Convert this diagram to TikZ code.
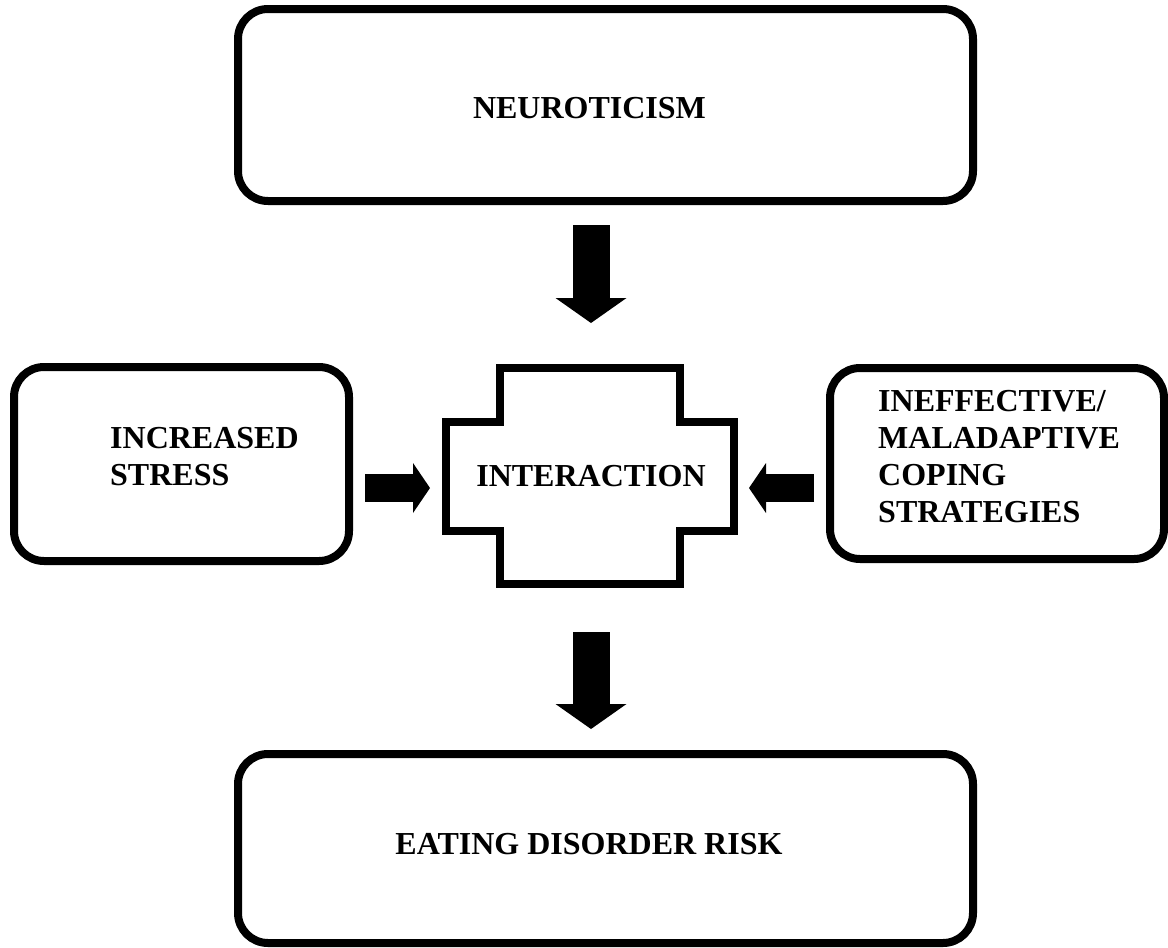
\documentclass[tikz,border=0pt]{standalone}
\usepackage{fontspec}
\setmainfont{Liberation Serif}
\usepackage{tikz}
\usetikzlibrary{arrows.meta}
\usetikzlibrary{positioning}
\tikzstyle{model_box}=[draw=black, line width=8pt, rounded corners=30pt]
\tikzstyle{box_text}=[align=left, inner sep=0pt]
\tikzstyle{block_down}=[line width=37pt, -{Triangle[width=71pt,length=25pt,line width=0pt]}]
\tikzstyle{block_side}=[line width=28pt, -{Triangle[width=50pt,length=17pt,line width=0pt]}]

\begin{document}
\begin{tikzpicture}[x=1pt, y=-1pt, every node/.style={font=\fontsize{32}{37}\selectfont\bfseries}]
\useasboundingbox (0,0) rectangle (1168,948);
% boxes
\node[model_box, minimum width=735pt, minimum height=192pt] (neuro) at (605.5,105){};
\node[model_box, minimum width=335pt, minimum height=194pt] (stress) at (181.5,464){};
\node[model_box, minimum width=334pt, minimum height=191pt] (coping) at (997,463.5){};
\node[model_box, minimum width=735pt, minimum height=189pt] (risk) at (605.5,848.5){};
\node[box_text] (neuro_txt) at (589.5,108){NEUROTICISM};
\node[box_text, anchor=west] (stress_txt) at (110,457){INCREASED\\STRESS};
\node[box_text, anchor=west] (coping_txt) at (878,457){INEFFECTIVE/\\MALADAPTIVE\\COPING\\STRATEGIES};
\node[box_text] (risk_txt) at (589,844){EATING DISORDER RISK};
% interaction cross
\draw[line width=8pt, miter limit=4] (500,368) -- (680,368) -- (680,422) -- (734,422) -- (734,531) -- (680,531)
  -- (680,584) -- (500,584) -- (500,531) -- (446,531) -- (446,422) -- (500,422) -- cycle;
\node[minimum width=296pt, minimum height=224pt, outer sep=0pt] (inter) at (591,476){INTERACTION};
% arrows
\draw[block_down, shorten <=20pt, shorten >=41pt](inter.north |- neuro.south) -- (inter.north);
\draw[block_down, shorten <=44pt, shorten >=21pt](inter.south) -- (inter.south |- risk.north);
\draw[block_side, shorten <=12pt, shorten >=13pt]([yshift=-24pt]stress.east) -- ([yshift=-12pt]inter.west);
\draw[block_side, shorten <=12pt, shorten >=10pt]([yshift=-24.5pt]coping.west) -- ([yshift=-12pt]inter.east);
\end{tikzpicture}
\end{document}
